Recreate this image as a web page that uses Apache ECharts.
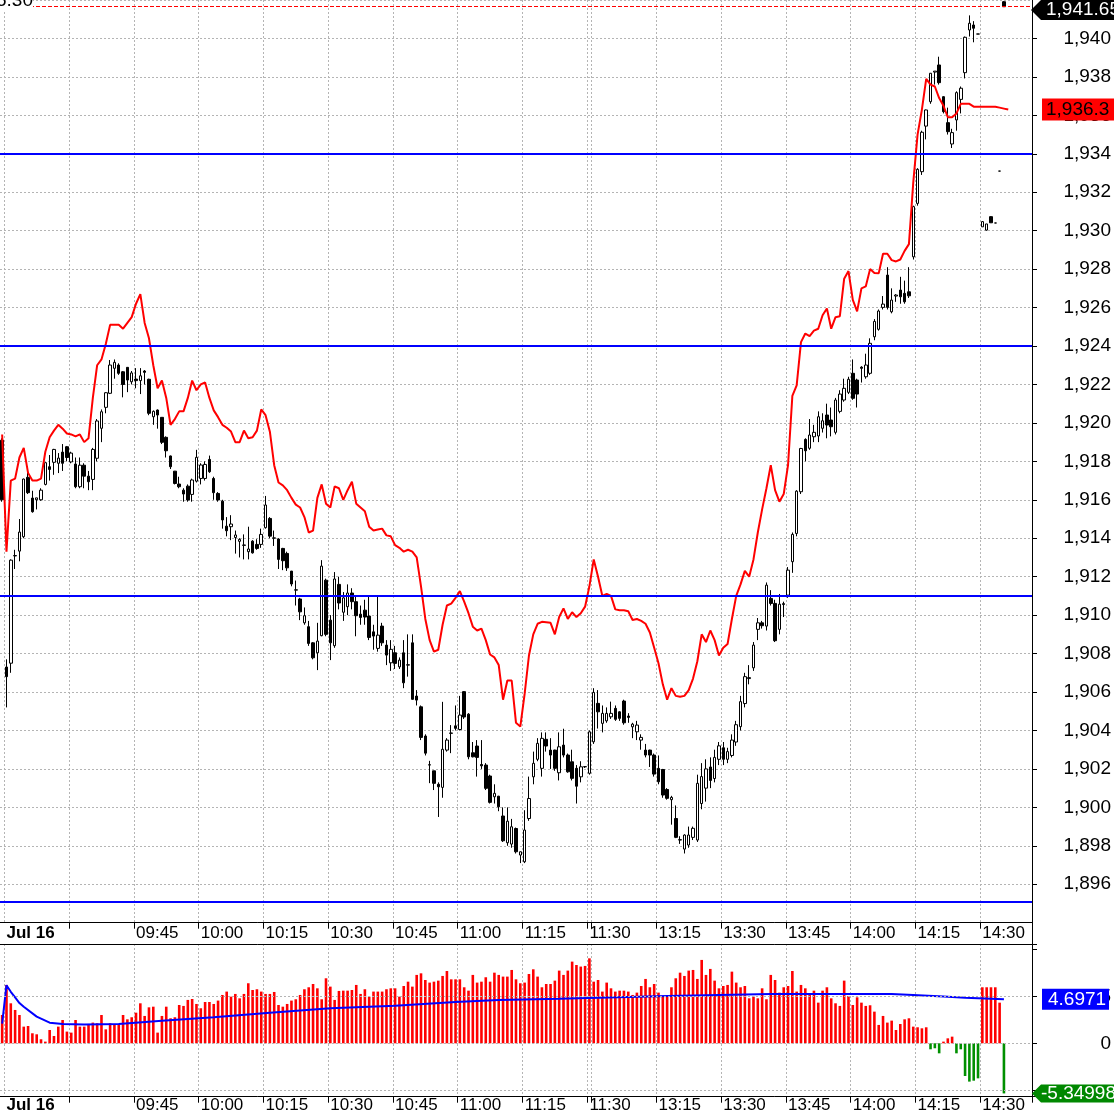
<!DOCTYPE html>
<html>
<head>
<meta charset="utf-8">
<title>Jul 16 intraday</title>
<script src="https://cdn.jsdelivr.net/npm/echarts@6/dist/echarts.min.js"></script>
<style>
html, body { margin: 0; padding: 0; background: #fff; }
#main { width: 1114px; height: 1114px; }
</style>
</head>
<body>
<div id="main"></div>
<script>
// minute slots: last bar of previous day, morning session, afternoon session
var times = ['15:14'];
function pad(n) { return (n < 10 ? '0' : '') + n; }
function addRange(from, to) {
    for (var t = from; t <= to; t++) {
        times.push(pad(Math.floor(t / 60)) + ':' + pad(t % 60));
    }
}
addRange(9 * 60 + 15, 11 * 60 + 30);
addRange(13 * 60, 14 * 60 + 41);

// open, close, low, high
var kline = [
    [1919.1, 1916.0, 1915.9, 1919.2], [1907.3, 1906.8, 1905.2, 1907.7], [1907.5, 1912.86, 1907.0, 1912.9], [1913.08, 1913.1, 1912.4, 1913.4],
    [1913.33, 1914.32, 1912.8, 1915.0], [1914.08, 1917.08, 1914.0, 1917.1], [1917.17, 1916.37, 1916.3, 1917.72], [1916.09, 1915.38, 1915.33, 1916.47],
    [1916.0, 1916.1, 1915.5, 1916.1], [1916.0, 1916.5, 1915.95, 1916.6], [1916.8, 1917.93, 1916.75, 1917.95], [1917.72, 1917.58, 1917.0, 1918.33],
    [1917.95, 1918.62, 1917.3, 1918.65], [1917.9, 1918.17, 1917.39, 1918.43], [1918.48, 1917.9, 1917.5, 1918.9], [1918.76, 1918.2, 1918.0, 1918.8],
    [1917.97, 1918.43, 1917.9, 1918.5], [1917.86, 1916.68, 1916.6, 1918.2], [1916.68, 1917.8, 1916.6, 1918.2], [1917.8, 1917.23, 1916.6, 1917.9],
    [1917.23, 1916.94, 1916.5, 1917.5], [1917.06, 1918.62, 1916.5, 1918.7], [1918.16, 1920.1, 1918.0, 1920.2], [1919.72, 1920.58, 1919.0, 1920.7],
    [1920.81, 1921.57, 1920.5, 1921.6], [1921.54, 1923.01, 1921.5, 1923.27], [1922.84, 1923.15, 1922.3, 1923.3], [1923.01, 1922.58, 1922.5, 1923.1],
    [1922.66, 1922.0, 1921.33, 1922.7], [1922.89, 1922.23, 1921.6, 1922.9], [1922.14, 1922.6, 1922.0, 1922.7], [1922.28, 1922.2, 1921.8, 1922.85],
    [1922.2, 1922.45, 1921.5, 1922.85], [1922.7, 1922.63, 1922.0, 1922.75], [1922.27, 1920.5, 1920.4, 1922.3], [1920.32, 1920.6, 1919.9, 1920.65],
    [1920.67, 1920.41, 1919.7, 1920.7], [1920.29, 1918.99, 1918.9, 1920.3], [1919.25, 1918.55, 1918.2, 1919.3], [1918.28, 1917.72, 1917.6, 1918.3],
    [1917.49, 1916.85, 1916.8, 1917.5], [1916.82, 1916.68, 1916.6, 1917.2], [1916.5, 1916.3, 1915.9, 1916.6], [1916.71, 1915.99, 1915.9, 1916.8],
    [1916.28, 1917.03, 1915.9, 1917.1], [1916.97, 1918.21, 1916.9, 1918.6], [1917.11, 1917.81, 1916.8, 1917.9], [1917.11, 1917.84, 1917.0, 1918.0],
    [1918.1, 1917.46, 1917.4, 1918.3], [1917.11, 1916.37, 1916.0, 1917.2], [1916.33, 1915.99, 1915.9, 1916.4], [1915.93, 1914.95, 1914.5, 1916.0],
    [1914.63, 1914.39, 1914.1, 1915.1], [1914.6, 1914.74, 1913.9, 1915.2], [1914.04, 1914.17, 1913.2, 1914.4], [1913.84, 1913.94, 1913.0, 1914.0],
    [1913.63, 1913.65, 1912.9, 1914.2], [1913.3, 1913.44, 1912.9, 1914.6], [1913.85, 1913.24, 1913.2, 1913.9], [1913.68, 1913.47, 1913.4, 1913.95],
    [1913.68, 1914.2, 1913.5, 1914.5], [1914.55, 1915.73, 1914.5, 1916.2], [1915.03, 1914.11, 1914.0, 1915.1], [1914.0, 1914.02, 1913.6, 1914.4],
    [1913.96, 1912.9, 1912.4, 1914.0], [1913.47, 1912.83, 1912.34, 1913.5], [1913.21, 1912.46, 1912.3, 1913.3], [1912.29, 1911.62, 1911.5, 1912.3],
    [1911.3, 1911.32, 1910.5, 1911.8], [1910.84, 1910.17, 1909.74, 1910.9], [1909.6, 1909.97, 1909.5, 1910.4], [1909.4, 1908.53, 1908.4, 1909.7],
    [1908.56, 1907.78, 1907.7, 1908.6], [1908.04, 1908.65, 1907.14, 1909.6], [1908.93, 1912.55, 1908.9, 1912.86], [1911.82, 1909.0, 1908.9, 1911.9],
    [1909.74, 1908.56, 1907.66, 1910.0], [1908.41, 1911.88, 1908.3, 1912.24], [1911.6, 1910.63, 1910.3, 1912.0], [1910.15, 1910.9, 1909.7, 1911.2],
    [1910.44, 1911.15, 1910.0, 1911.6], [1911.15, 1910.7, 1910.3, 1911.4], [1910.7, 1909.97, 1908.9, 1911.0], [1910.05, 1909.88, 1909.5, 1910.5],
    [1910.26, 1909.9, 1909.5, 1910.8], [1909.95, 1908.84, 1908.7, 1911.0], [1909.13, 1908.91, 1908.2, 1909.5], [1908.27, 1908.96, 1908.1, 1911.0],
    [1909.43, 1908.56, 1908.4, 1909.6], [1908.44, 1907.92, 1907.4, 1908.7], [1907.52, 1908.22, 1907.1, 1908.7], [1908.04, 1907.49, 1907.2, 1908.4],
    [1907.31, 1907.66, 1907.2, 1907.8], [1908.04, 1906.48, 1906.2, 1908.7], [1907.4, 1907.42, 1906.8, 1909.0], [1908.56, 1905.62, 1905.6, 1909.0],
    [1905.79, 1905.58, 1905.3, 1906.1], [1905.23, 1903.64, 1903.5, 1905.3], [1903.71, 1902.82, 1902.7, 1903.8], [1902.2, 1902.22, 1901.26, 1902.42],
    [1901.9, 1901.25, 1900.9, 1901.9], [1901.2, 1901.07, 1899.5, 1901.3], [1901.04, 1903.02, 1900.5, 1905.49], [1902.98, 1903.5, 1902.9, 1903.6],
    [1903.85, 1903.87, 1902.82, 1904.28], [1904.24, 1904.11, 1904.0, 1905.3], [1904.05, 1904.8, 1904.0, 1905.8], [1906.02, 1904.7, 1904.6, 1906.05],
    [1904.85, 1902.63, 1902.5, 1904.9], [1902.84, 1902.63, 1902.6, 1903.4], [1903.19, 1902.6, 1901.6, 1903.5], [1902.23, 1902.16, 1902.0, 1903.5],
    [1902.2, 1900.99, 1900.9, 1902.3], [1901.63, 1900.26, 1900.2, 1901.7], [1900.55, 1900.73, 1900.2, 1901.2], [1900.58, 1900.03, 1899.8, 1900.6],
    [1899.55, 1898.26, 1898.2, 1900.0], [1898.16, 1899.28, 1898.0, 1900.0], [1898.09, 1898.99, 1897.9, 1899.4], [1898.9, 1897.69, 1897.6, 1898.95],
    [1897.52, 1897.69, 1897.1, 1897.7], [1897.17, 1898.82, 1897.1, 1899.85], [1899.42, 1900.46, 1899.3, 1901.6], [1901.59, 1902.29, 1901.2, 1902.9],
    [1902.5, 1903.33, 1902.4, 1903.6], [1902.03, 1903.59, 1901.6, 1903.9], [1903.54, 1903.19, 1902.9, 1903.9], [1902.98, 1902.72, 1902.0, 1903.6],
    [1902.98, 1902.03, 1901.9, 1903.0], [1901.8, 1903.15, 1901.4, 1903.9], [1903.24, 1902.72, 1902.6, 1904.09], [1902.72, 1901.85, 1901.8, 1902.8],
    [1902.37, 1901.51, 1901.4, 1903.0], [1902.03, 1901.1, 1900.2, 1902.2], [1901.59, 1902.11, 1901.3, 1902.4], [1902.11, 1902.12, 1902.05, 1902.15],
    [1901.77, 1903.93, 1901.7, 1904.0], [1903.41, 1905.98, 1903.3, 1906.2], [1905.41, 1904.97, 1904.1, 1906.1], [1904.37, 1904.89, 1903.9, 1905.3],
    [1904.5, 1904.89, 1904.4, 1905.2], [1904.71, 1904.89, 1904.6, 1905.5], [1905.15, 1904.58, 1904.5, 1905.3], [1904.97, 1904.63, 1904.5, 1905.0],
    [1905.53, 1904.4, 1904.3, 1905.6], [1904.75, 1904.68, 1904.4, 1904.9], [1904.19, 1904.33, 1903.6, 1904.4], [1903.93, 1904.28, 1903.5, 1904.5],
    [1903.5, 1903.64, 1903.0, 1903.8], [1902.98, 1902.72, 1902.6, 1903.3], [1902.98, 1902.72, 1902.1, 1903.0], [1902.72, 1901.73, 1901.6, 1902.8],
    [1902.03, 1901.33, 1901.2, 1902.7], [1901.97, 1900.64, 1900.5, 1902.0], [1900.93, 1900.47, 1900.4, 1901.0], [1900.4, 1900.52, 1899.1, 1900.6],
    [1899.42, 1898.44, 1898.4, 1900.1], [1898.3, 1898.32, 1898.1, 1898.5], [1897.83, 1898.56, 1897.6, 1898.6], [1898.04, 1898.56, 1897.9, 1899.0],
    [1898.44, 1898.91, 1898.3, 1899.0], [1898.3, 1901.25, 1898.2, 1901.7], [1900.2, 1901.6, 1899.9, 1902.3], [1901.0, 1902.0, 1900.3, 1902.5],
    [1902.1, 1901.4, 1901.0, 1902.6], [1901.5, 1902.6, 1901.3, 1903.0], [1902.5, 1903.2, 1902.2, 1903.4], [1903.1, 1902.5, 1902.2, 1903.4],
    [1902.5, 1902.9, 1902.3, 1903.1], [1902.7, 1903.5, 1902.6, 1903.8], [1903.4, 1904.3, 1903.2, 1904.5], [1904.2, 1905.5, 1904.0, 1905.8],
    [1905.4, 1906.8, 1905.2, 1907.0], [1906.7, 1906.75, 1906.4, 1907.4], [1907.26, 1908.44, 1907.1, 1908.6], [1909.26, 1909.6, 1908.7, 1909.85],
    [1909.6, 1909.45, 1909.3, 1909.7], [1909.43, 1911.56, 1909.2, 1911.7], [1910.87, 1910.61, 1910.5, 1911.3], [1910.61, 1908.67, 1908.6, 1910.8],
    [1909.26, 1910.57, 1909.0, 1911.1], [1910.55, 1910.6, 1909.9, 1910.7], [1911.04, 1912.34, 1910.9, 1912.5], [1912.78, 1914.2, 1912.2, 1914.3],
    [1914.25, 1916.45, 1914.1, 1916.5], [1916.42, 1918.67, 1916.3, 1918.7], [1919.14, 1918.55, 1918.0, 1919.2], [1918.68, 1919.37, 1918.6, 1920.2],
    [1919.28, 1919.51, 1919.0, 1919.9], [1919.32, 1920.32, 1919.0, 1920.6], [1919.72, 1920.11, 1919.5, 1920.5], [1920.41, 1919.89, 1919.2, 1921.0],
    [1920.15, 1919.8, 1919.3, 1920.8], [1919.51, 1921.19, 1919.4, 1921.3], [1920.6, 1921.5, 1920.5, 1921.7], [1921.19, 1921.8, 1921.1, 1922.3],
    [1921.59, 1922.27, 1921.5, 1922.4], [1922.58, 1921.28, 1921.2, 1923.3], [1922.23, 1921.5, 1920.8, 1922.3], [1922.9, 1922.84, 1922.1, 1922.95],
    [1922.4, 1923.01, 1922.3, 1923.6], [1922.58, 1924.14, 1922.5, 1924.4], [1924.48, 1925.28, 1924.3, 1925.4], [1924.87, 1925.82, 1924.8, 1925.9],
    [1926.01, 1926.18, 1925.9, 1926.6], [1927.69, 1926.01, 1925.9, 1928.1], [1925.78, 1926.39, 1925.7, 1927.0], [1926.6, 1926.65, 1926.3, 1926.7],
    [1926.91, 1926.56, 1926.2, 1927.6], [1926.74, 1926.3, 1926.2, 1927.4], [1926.82, 1926.61, 1926.5, 1928.1], [1928.64, 1931.25, 1928.5, 1931.3],
    [1931.42, 1933.19, 1931.3, 1933.25], [1933.07, 1935.12, 1932.9, 1935.2], [1935.44, 1936.28, 1934.75, 1936.3], [1936.71, 1938.19, 1936.6, 1938.2],
    [1938.25, 1938.3, 1937.6, 1938.3], [1938.62, 1937.7, 1937.6, 1939.05], [1936.97, 1936.19, 1936.1, 1937.0], [1935.62, 1935.15, 1935.0, 1936.4],
    [1934.51, 1935.1, 1934.3, 1935.3], [1935.76, 1937.18, 1935.2, 1937.25], [1936.83, 1937.41, 1936.1, 1937.5], [1938.22, 1940.06, 1937.92, 1940.1],
    [1940.44, 1940.79, 1940.1, 1941.2], [1940.7, 1940.53, 1939.8, 1940.9], [1940.23, 1940.23, 1940.23, 1940.23], [1930.2, 1930.47, 1930.2, 1930.5],
    [1930.03, 1930.35, 1930.0, 1930.35], [1930.73, 1930.41, 1930.4, 1930.75], [1930.4, 1930.4, 1930.4, 1930.4], [1933.1, 1933.1, 1933.1, 1933.1],
    [1941.91, 1941.65, 1941.65, 1941.95]
];

// red comparison line
var redLine = [
    1919.4, 1913.3, 1917.0, 1917.1, 1918.2, 1918.7, 1917.4, 1917.0, 1917.0, 1917.1,
    1918.5, 1919.25, 1919.6, 1919.9, 1919.7, 1919.45, 1919.4, 1919.3, 1919.4, 1919.0,
    1919.2, 1921.3, 1923.0, 1923.3, 1924.1, 1925.1, 1925.1, 1925.1, 1924.9, 1925.2,
    1925.5, 1926.2, 1926.7, 1925.2, 1924.4, 1923.0, 1921.8, 1922.2, 1921.3, 1919.9,
    1920.2, 1920.6, 1920.6, 1921.3, 1922.2, 1921.7, 1922.0, 1922.1, 1921.3, 1920.65,
    1920.3, 1919.9, 1919.75, 1919.55, 1919.0, 1919.0, 1919.6, 1919.2, 1919.25, 1919.6,
    1920.7, 1920.4, 1919.54, 1917.8, 1916.9, 1916.75, 1916.5, 1916.1, 1915.75, 1915.6,
    1915.1, 1914.3, 1914.4, 1916.1, 1916.8, 1915.8, 1915.6, 1916.7, 1916.6, 1916.0,
    1916.5, 1916.94, 1915.8, 1915.6, 1915.4, 1914.6, 1914.4, 1914.45, 1914.5, 1914.15,
    1914.1, 1913.64, 1913.5, 1913.3, 1913.4, 1913.3, 1913.0, 1911.5, 1909.8, 1908.7,
    1908.1, 1908.2, 1909.5, 1910.5, 1910.6, 1910.9, 1911.25, 1910.7, 1910.1, 1909.4,
    1909.2, 1909.3, 1908.7, 1907.95, 1907.8, 1907.4, 1905.6, 1906.6, 1906.6, 1904.4,
    1904.2, 1905.9, 1907.9, 1909.0, 1909.55, 1909.65, 1909.63, 1909.6, 1909.0, 1909.9,
    1910.35, 1909.8, 1910.15, 1909.9, 1910.1, 1910.44, 1911.5, 1912.9, 1912.0, 1911.0,
    1911.1, 1911.0, 1910.3, 1910.25, 1910.25, 1910.2, 1909.75, 1909.8, 1909.7, 1909.55,
    1909.1, 1908.3, 1907.5, 1906.4, 1905.6, 1906.2, 1905.8, 1905.75, 1905.8, 1906.1,
    1906.7, 1907.6, 1909.0, 1908.6, 1909.2, 1908.7, 1907.9, 1908.3, 1908.5, 1909.8,
    1911.0, 1911.6, 1912.3, 1912.0, 1912.9, 1914.3, 1915.5, 1916.6, 1917.8, 1916.5,
    1915.9, 1916.3, 1917.8, 1921.4, 1921.95, 1924.2, 1924.65, 1924.52, 1924.8, 1924.9,
    1925.6, 1925.95, 1924.9, 1925.5, 1925.55, 1927.5, 1927.9, 1926.4, 1925.8, 1927.0,
    1927.1, 1928.0, 1927.8, 1927.78, 1928.8, 1928.8, 1928.47, 1928.4, 1928.5, 1928.95,
    1929.3, 1932.5, 1935.0, 1936.3, 1937.9, 1937.6, 1937.5, 1936.9, 1936.5, 1935.9,
    1935.9, 1936.1, 1936.6, 1936.6, 1936.6, 1936.45, 1936.45, 1936.45, 1936.45, 1936.45,
    1936.45, 1936.4, 1936.35, 1936.3
];

// lower panel histogram
var histo = [
    3.02, 6.23, 4.27, 3.56, 3.02, 1.78, 1.85, 1.07, 0.96, 0.43,
    0.18, 1.42, 0.78, 1.78, 2.49, 1.25, 1.14, 2.49, 1.78, 1.78,
    1.96, 2.21, 2.14, 3.02, 1.49, 2.14, 1.96, 2.06, 3.02, 2.56,
    2.78, 3.27, 4.27, 2.92, 3.84, 3.91, 1.14, 2.92, 3.91, 2.67,
    2.78, 4.09, 3.99, 4.63, 4.73, 4.2, 3.74, 4.41, 4.41, 4.2,
    4.56, 5.16, 5.52, 4.98, 5.27, 4.8, 5.27, 6.41, 5.69, 5.77,
    5.52, 5.27, 5.27, 5.48, 4.09, 3.91, 4.2, 4.56, 4.7, 5.16,
    5.77, 5.98, 6.33, 5.87, 4.7, 6.94, 6.05, 4.63, 5.59, 5.62,
    5.62, 5.69, 6.23, 5.27, 5.77, 4.98, 5.52, 5.52, 5.52, 5.77,
    5.87, 5.87, 4.98, 6.12, 6.58, 6.05, 7.3, 7.47, 6.76, 6.48,
    6.58, 6.69, 7.19, 7.72, 6.83, 6.83, 6.83, 5.98, 5.62, 7.3,
    6.48, 6.58, 7.05, 6.58, 7.54, 7.3, 7.12, 7.12, 7.83, 6.83,
    6.41, 6.48, 7.4, 7.9, 7.12, 5.98, 6.33, 6.33, 6.69,
    7.76, 7.3, 7.76, 8.72, 8.36, 8.19, 8.26, 9.07, 6.58, 6.76,
    5.52, 6.48, 5.87, 5.52, 5.62, 5.62, 5.52, 5.16, 5.41, 6.12,
    6.87, 5.98, 6.33, 5.41, 5.05, 4.98, 5.98, 6.94, 7.54, 7.19,
    7.76, 7.83, 6.87, 8.9, 7.3, 7.94, 6.69, 5.87, 6.12, 6.23,
    7.65, 6.48, 5.98, 6.12, 4.8, 4.98, 4.8, 5.87, 4.7, 7.3,
    6.76, 5.41, 5.98, 6.12, 7.72, 5.52, 6.23, 5.87, 5.16, 5.62,
    4.34, 5.62, 5.98, 4.8, 4.27, 3.99, 6.69, 5.05, 4.09, 4.91,
    4.34, 3.99, 4.06, 3.38, 1.96, 2.92, 2.21, 2.42, 1.42, 2.06,
    2.56, 2.67, 1.78, 1.71, 1.6, 1.71, -0.64, -0.53, -1.07, 0.18,
    0.53, 0.71, -1.07, -0.64, -3.49, -4.09, -3.99, -3.74, 5.98, 5.98,
    5.98, 5.98, 4.34, -5.34998
];

// blue average line of the lower panel, [slot, value]
var avgLine = [
    [0, 2.1], [1, 6.2], [2, 5.5], [3, 4.9], [4, 4.3], [5, 3.9], [8, 2.85], [11, 2.2], [14, 2.05],
    [19, 2.0], [27, 2.05], [37, 2.4], [49, 2.77], [62, 3.27], [76, 3.73], [91, 4.0], [105, 4.4],
    [115, 4.62], [129, 4.76], [154, 5.05], [178, 5.26], [206, 5.26], [211, 5.15], [218, 5.0],
    [223, 4.87], [232, 4.6971]
];

// horizontal levels (blue) and axis ranges
var levels = [1934, 1924, 1911.02, 1895.07];
var priceMin = 1894, priceMax = 1942, priceStep = 2;
var lowerMin = -5.7, lowerMax = 10.6;
var lowerGrid = [5, 0, -5];

var numFont = "'Liberation Sans', Arial, sans-serif";
var timeFont = "'Liberation Sans', Arial, sans-serif";
var numSize = 19;
var gridColor = '#b4b4b4';

function withCommas(v) {
    var parts = String(v).split('.');
    parts[0] = parts[0].replace(/\B(?=(\d{3})+(?!\d))/g, ',');
    return parts.join('.');
}
function minuteOf(v) { return +v.slice(3); }
function onQuarter(i, v) { return i > 0 && minuteOf(v) % 15 === 0; }
function tickShown(i, v) { return i > 1 && onQuarter(i, v); }
function labelShown(i, v) { return i === 1 || (tickShown(i, v) && v !== '09:30' && v !== '13:00'); }
function timeLabel(v) { return v === '09:15' ? '{b|Jul 16}' : v; }

var lastClose = kline[kline.length - 1][1];
var lastRed = redLine[redLine.length - 1];
var lastAvg = avgLine[avgLine.length - 1][1];
var lastHisto = histo[histo.length - 1];

function timeAxis(grid, margin) {
    return {
        type: 'category',
        gridIndex: grid,
        data: times,
        boundaryGap: true,
        axisLine: {show: true, onZero: false, lineStyle: {color: '#000', width: 1}},
        axisTick: {show: true, interval: tickShown, length: 6, lineStyle: {color: '#000'}},
        axisLabel: {
            show: true, interval: labelShown, formatter: timeLabel, align: 'left', margin: margin,
            color: '#000', fontSize: 17, fontFamily: timeFont,
            rich: {b: {fontWeight: 'bold', fontSize: 17, fontFamily: timeFont, color: '#000'}}
        },
        splitLine: {show: true, interval: onQuarter, lineStyle: {color: gridColor, type: [2, 2], width: 1}}
    };
}

var chart = echarts.init(document.getElementById('main'));

var option = {
    animation: false,
    backgroundColor: '#fff',
    grid: [
        {left: 0, right: 82, top: 0, bottom: 191.3, containLabel: false, outerBoundsMode: 'none'},
        {left: 0, right: 82, top: 944, bottom: 17.3, containLabel: false, outerBoundsMode: 'none'}
    ],
    xAxis: [
        timeAxis(0, 2),
        timeAxis(1, 0),
        {
            type: 'category', gridIndex: 1, data: times, position: 'top',
            axisLine: {show: true, onZero: false, lineStyle: {color: '#000'}},
            axisTick: {show: false}, axisLabel: {show: false}, splitLine: {show: false}
        }
    ],
    yAxis: [
        {
            type: 'value', gridIndex: 0, position: 'right',
            min: priceMin, max: priceMax, interval: priceStep,
            axisLine: {show: true, lineStyle: {color: '#000'}},
            axisTick: {show: true, length: 5, lineStyle: {color: '#000'}},
            axisLabel: {
                showMinLabel: false, showMaxLabel: false, align: 'right', margin: 79,
                color: '#000', fontSize: numSize, fontFamily: numFont,
                formatter: function (v) { return withCommas(v); }
            },
            splitLine: {show: true, lineStyle: {color: gridColor, type: [2, 2], width: 1}}
        },
        {
            type: 'value', gridIndex: 1, position: 'right',
            min: lowerMin, max: lowerMax, minInterval: 5, maxInterval: 5,
            axisLine: {show: true, lineStyle: {color: '#000'}},
            axisTick: {show: true, length: 5, lineStyle: {color: '#000'}},
            axisLabel: {
                align: 'right', margin: 79, color: '#000', fontSize: numSize, fontFamily: numFont,
                formatter: function (v) { return (v === 5 || v === 0) ? String(v) : ''; }
            },
            splitLine: {show: false}
        }
    ],
    series: [
        {
            name: 'grid',
            type: 'line',
            xAxisIndex: 1, yAxisIndex: 1,
            data: [],
            z: 1,
            markLine: {
                silent: true, symbol: 'none', label: {show: false},
                lineStyle: {color: gridColor, type: [2, 2], width: 1},
                data: lowerGrid.map(function (v) { return {yAxis: v}; })
            }
        },
        {
            name: 'kline',
            type: 'candlestick',
            xAxisIndex: 0, yAxisIndex: 0,
            data: kline,
            barWidth: 3,
            z: 3,
            itemStyle: {
                color: '#fff', color0: '#000',
                borderColor: '#000', borderColor0: '#000', borderColorDoji: '#000',
                borderWidth: 1
            },
            markLine: {
                silent: true, symbol: 'none', label: {show: false},
                data: levels.map(function (v) {
                    return {yAxis: v, lineStyle: {color: '#0000ff', width: 2, type: 'solid'}};
                }).concat([{yAxis: lastClose, lineStyle: {color: '#ff0000', width: 1, type: [4, 2]}}])
            }
        },
        {
            name: 'red',
            type: 'line',
            xAxisIndex: 0, yAxisIndex: 0,
            data: redLine,
            symbol: 'none',
            z: 4,
            lineStyle: {color: '#ff0000', width: 2}
        },
        {
            name: 'histo',
            type: 'bar',
            xAxisIndex: 1, yAxisIndex: 1,
            data: histo,
            barWidth: 2.6,
            z: 2,
            itemStyle: {
                color: function (p) { return p.value >= 0 ? '#ff0000' : '#009000'; }
            }
        },
        {
            name: 'avg',
            type: 'line',
            xAxisIndex: 1, yAxisIndex: 1,
            data: avgLine,
            symbol: 'none',
            z: 4,
            lineStyle: {color: '#0000ff', width: 2}
        }
    ]
};
chart.setOption(option);

// value tags on the right edge, placed through the axes' own scales
var yClose = Math.max(chart.convertToPixel({yAxisIndex: 0}, lastClose), 10);
var yRed = chart.convertToPixel({yAxisIndex: 0}, lastRed);
var yAvg = chart.convertToPixel({yAxisIndex: 1}, lastAvg);
var yHist = chart.convertToPixel({yAxisIndex: 1}, lastHisto);
var yTop = chart.convertToPixel({yAxisIndex: 0}, priceMin);
var yLow = chart.convertToPixel({yAxisIndex: 1}, lowerMax);

function tagText(x, y, text, color) {
    return {
        type: 'text', z: 20,
        style: {x: x, y: y, text: text, fill: color, fontSize: numSize, fontFamily: numFont, align: 'left', verticalAlign: 'middle'}
    };
}

chart.setOption({
    graphic: [
        {
            type: 'line', z: 10,
            shape: {x1: 1032.5, y1: yTop, x2: 1032.5, y2: yLow},
            style: {stroke: '#000', lineWidth: 1}
        },
        {
            type: 'text', z: 20,
            style: {x: 33, y: 1, text: '1,935.30', fill: '#000', backgroundColor: '#fff', fontSize: numSize, fontFamily: numFont, align: 'right', verticalAlign: 'middle'}
        },
        {
            type: 'polygon', z: 19,
            shape: {points: [[1031, yClose], [1041, yClose - 10], [1114, yClose - 10], [1114, yClose + 10], [1041, yClose + 10]]},
            style: {fill: '#000'}
        },
        tagText(1046, yClose, withCommas(lastClose), '#fff'),
        {
            type: 'rect', z: 19,
            shape: {x: 1042, y: yRed - 11, width: 72, height: 22},
            style: {fill: '#ff0000'}
        },
        tagText(1046, yRed, withCommas(lastRed), '#000'),
        {
            type: 'rect', z: 19,
            shape: {x: 1042, y: yAvg - 10.5, width: 67, height: 21},
            style: {fill: '#0000ff'}
        },
        tagText(1048, yAvg, String(lastAvg), '#fff'),
        {
            type: 'polygon', z: 19,
            shape: {points: [[1032, yHist], [1041, yHist - 9], [1114, yHist - 9], [1114, yHist + 9], [1041, yHist + 9]]},
            style: {fill: '#008800'}
        },
        tagText(1041, yHist, String(lastHisto), '#fff')
    ]
});
</script>
</body>
</html>
